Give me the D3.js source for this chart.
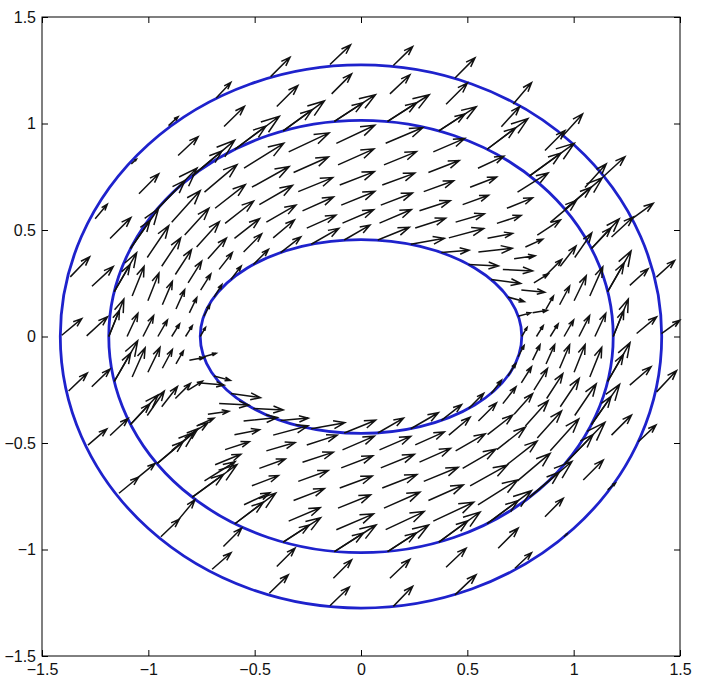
<!DOCTYPE html>
<html>
<head>
<meta charset="utf-8">
<script src="https://cdnjs.cloudflare.com/ajax/libs/d3/7.8.5/d3.min.js"></script>
<style>
  body { margin: 0; background: #fff; }
  text { font-family: "Liberation Sans", Arial, Helvetica, sans-serif; }
</style>
</head>
<body>
<script>
// tick values used on both axes
var tickValues = [-1.5, -1, -0.5, 0, 0.5, 1, 1.5];

// semi-axes of the boundary ellipses: inner, middle, outer
var ellipseA = [0.756, 1.186, 1.414];
var ellipseB = [0.455, 1.015, 1.275];

// arrows with their tail on the outer ellipse
var outerRing = [
  [1.413, 0.014, 0.086, 0.062], [1.389, 0.279, 0.086, 0.078], [1.264, 0.545, 0.110, 0.080],
  [1.139, 0.750, 0.102, 0.094], [0.943, 0.936, 0.099, 0.109], [0.716, 1.092, 0.086, 0.100],
  [0.442, 1.214, 0.094, 0.094], [0.152, 1.272, 0.091, 0.089], [-0.146, 1.277, 0.097, 0.092],
  [-0.425, 1.220, 0.091, 0.091], [-0.681, 1.120, 0.069, 0.073], [-0.905, 0.990, 0.045, 0.042],
  [-1.080, 0.810, 0.024, 0.022], [-1.250, 0.553, 0.057, 0.068], [-1.367, 0.280, 0.091, 0.094],
  [-1.407, 0.006, 0.094, 0.078], [-1.375, -0.256, 0.088, 0.084], [-1.284, -0.510, 0.089, 0.076],
  [-1.138, -0.736, 0.092, 0.075], [-0.941, -0.940, 0.086, 0.082], [-0.700, -1.093, 0.089, 0.078],
  [-0.431, -1.205, 0.089, 0.086], [-0.146, -1.264, 0.091, 0.088], [0.152, -1.267, 0.091, 0.094],
  [0.442, -1.213, 0.099, 0.094], [0.724, -1.088, 0.078, 0.073], [0.955, -0.940, 0.014, 0.014],
  [1.160, -0.720, 0.036, 0.031], [1.304, -0.494, 0.083, 0.078], [1.390, -0.260, 0.094, 0.100]
];

// arrows half way between middle and outer ellipse
var midRing = [
  [1.296, 0.014, 0.094, 0.078], [1.264, 0.240, 0.086, 0.078], [1.178, 0.467, 0.102, 0.094],
  [1.053, 0.700, 0.100, 0.110], [0.865, 0.873, 0.094, 0.094], [0.660, 0.985, 0.086, 0.094],
  [0.400, 1.090, 0.100, 0.100], [0.136, 1.139, 0.094, 0.089], [-0.138, 1.139, 0.094, 0.094],
  [-0.396, 1.080, 0.099, 0.098], [-0.644, 0.986, 0.096, 0.094], [-0.860, 0.850, 0.094, 0.088],
  [-1.044, 0.670, 0.093, 0.094], [-1.180, 0.460, 0.098, 0.098], [-1.265, 0.236, 0.100, 0.092],
  [-1.290, 0.003, 0.098, 0.090], [-1.266, -0.236, 0.086, 0.083], [-1.180, -0.465, 0.085, 0.080],
  [-1.054, -0.666, 0.086, 0.070], [-0.859, -0.861, 0.078, 0.094], [-0.647, -0.986, 0.086, 0.086],
  [-0.396, -1.080, 0.086, 0.086], [-0.130, -1.135, 0.086, 0.086], [0.136, -1.135, 0.094, 0.089],
  [0.400, -1.083, 0.094, 0.089], [0.645, -0.994, 0.094, 0.094], [0.865, -0.846, 0.086, 0.086],
  [1.045, -0.674, 0.094, 0.094], [1.178, -0.463, 0.094, 0.094], [1.264, -0.228, 0.100, 0.086]
];

// arrows on the middle ellipse (long ones)
var middleRingLong = [
  [1.186, 0, 0.071, 0.176], [1.160, 0.211, 0.110, 0.191], [1.084, 0.413, 0.130, 0.139],
  [0.959, 0.597, 0.176, 0.148], [0.793, 0.754, 0.210, 0.153], [0.593, 0.879, 0.192, 0.144],
  [0.366, 0.965, 0.176, 0.114], [0.125, 1.010, 0.196, 0.125], [-0.125, 1.010, 0.193, 0.125],
  [-0.366, 0.965, 0.194, 0.141], [-0.593, 0.879, 0.209, 0.155], [-0.793, 0.754, 0.199, 0.167],
  [-0.959, 0.597, 0.188, 0.194], [-1.084, 0.413, 0.132, 0.188], [-1.160, 0.211, 0.105, 0.182],
  [-1.186, 0, 0.071, 0.176], [-1.160, -0.211, 0.110, 0.191], [-1.084, -0.413, 0.130, 0.139],
  [-0.959, -0.597, 0.176, 0.148], [-0.793, -0.754, 0.210, 0.153], [-0.593, -0.879, 0.192, 0.144],
  [-0.366, -0.965, 0.176, 0.114], [-0.125, -1.010, 0.196, 0.125], [0.125, -1.010, 0.193, 0.125],
  [0.366, -0.965, 0.194, 0.141], [0.593, -0.879, 0.209, 0.155], [0.793, -0.754, 0.199, 0.167],
  [0.959, -0.597, 0.188, 0.194], [1.084, -0.413, 0.132, 0.188], [1.160, -0.211, 0.105, 0.182]
];

// second (shorter) arrow on the same middle-ellipse nodes, gives the double heads
var middleRingShort = [
  [1.186, 0, 0.050, 0.123], [1.160, 0.211, 0.077, 0.134], [1.084, 0.413, 0.091, 0.097],
  [0.959, 0.597, 0.123, 0.104], [0.793, 0.754, 0.147, 0.107], [0.593, 0.879, 0.134, 0.101],
  [0.366, 0.965, 0.123, 0.080], [0.125, 1.010, 0.137, 0.088], [-0.125, 1.010, 0.135, 0.088],
  [-0.366, 0.965, 0.136, 0.099], [-0.593, 0.879, 0.146, 0.109], [-0.793, 0.754, 0.139, 0.117],
  [-0.959, 0.597, 0.132, 0.136], [-1.084, 0.413, 0.092, 0.132], [-1.160, 0.211, 0.074, 0.127],
  [-1.186, 0, 0.050, 0.123], [-1.160, -0.211, 0.077, 0.134], [-1.084, -0.413, 0.091, 0.097],
  [-0.959, -0.597, 0.123, 0.104], [-0.793, -0.754, 0.147, 0.107], [-0.593, -0.879, 0.134, 0.101],
  [-0.366, -0.965, 0.123, 0.080], [-0.125, -1.010, 0.137, 0.088], [0.125, -1.010, 0.135, 0.088],
  [0.366, -0.965, 0.136, 0.099], [0.593, -0.879, 0.146, 0.109], [0.793, -0.754, 0.139, 0.117],
  [0.959, -0.597, 0.132, 0.136], [1.084, -0.413, 0.092, 0.132], [1.160, -0.211, 0.074, 0.127]
];

// rows between the middle and inner ellipse, outermost first
var row5 = [
  [1.100, 0, 0.051, 0.109], [1.076, 0.190, 0.061, 0.137], [1.005, 0.371, 0.080, 0.115],
  [0.890, 0.536, 0.123, 0.103], [0.736, 0.678, 0.144, 0.090], [0.550, 0.790, 0.122, 0.057],
  [0.340, 0.867, 0.148, 0.063], [0.116, 0.907, 0.175, 0.074], [-0.116, 0.907, 0.181, 0.085],
  [-0.340, 0.867, 0.190, 0.089], [-0.550, 0.790, 0.187, 0.117], [-0.736, 0.678, 0.153, 0.129],
  [-0.890, 0.536, 0.134, 0.149], [-1.005, 0.371, 0.101, 0.149], [-1.076, 0.190, 0.056, 0.139],
  [-1.100, 0, 0.051, 0.109], [-1.076, -0.190, 0.061, 0.137], [-1.005, -0.371, 0.080, 0.115],
  [-0.890, -0.536, 0.123, 0.103], [-0.736, -0.678, 0.144, 0.090], [-0.550, -0.790, 0.122, 0.057],
  [-0.340, -0.867, 0.148, 0.063], [-0.116, -0.907, 0.175, 0.074], [0.116, -0.907, 0.181, 0.085],
  [0.340, -0.867, 0.190, 0.089], [0.550, -0.790, 0.187, 0.117], [0.736, -0.678, 0.153, 0.129],
  [0.890, -0.536, 0.134, 0.149], [1.005, -0.371, 0.101, 0.149], [1.076, -0.190, 0.056, 0.139]
];

var row4 = [
  [1.025, 0, 0.050, 0.098], [1.002, 0.168, 0.057, 0.117], [0.937, 0.330, 0.074, 0.095],
  [0.829, 0.476, 0.109, 0.071], [0.686, 0.602, 0.121, 0.049], [0.513, 0.701, 0.125, 0.048],
  [0.317, 0.770, 0.145, 0.056], [0.108, 0.806, 0.153, 0.062], [-0.108, 0.806, 0.169, 0.075],
  [-0.317, 0.770, 0.164, 0.073], [-0.513, 0.701, 0.175, 0.097], [-0.686, 0.602, 0.142, 0.111],
  [-0.829, 0.476, 0.114, 0.126], [-0.937, 0.330, 0.089, 0.133], [-1.002, 0.168, 0.052, 0.130],
  [-1.025, 0, 0.050, 0.098], [-1.002, -0.168, 0.057, 0.117], [-0.937, -0.330, 0.074, 0.095],
  [-0.829, -0.476, 0.109, 0.071], [-0.686, -0.602, 0.121, 0.049], [-0.513, -0.701, 0.125, 0.048],
  [-0.317, -0.770, 0.145, 0.056], [-0.108, -0.806, 0.153, 0.062], [0.108, -0.806, 0.169, 0.075],
  [0.317, -0.770, 0.164, 0.073], [0.513, -0.701, 0.175, 0.097], [0.686, -0.602, 0.142, 0.111],
  [0.829, -0.476, 0.114, 0.126], [0.937, -0.330, 0.089, 0.133], [1.002, -0.168, 0.052, 0.130]
];

var row3 = [
  [0.955, 0, 0.045, 0.078], [0.934, 0.149, 0.047, 0.088], [0.873, 0.291, 0.071, 0.071],
  [0.773, 0.420, 0.082, 0.037], [0.639, 0.531, 0.114, 0.037], [0.478, 0.619, 0.122, 0.044],
  [0.295, 0.680, 0.141, 0.051], [0.100, 0.711, 0.153, 0.056], [-0.100, 0.711, 0.163, 0.063],
  [-0.295, 0.680, 0.162, 0.066], [-0.478, 0.619, 0.156, 0.090], [-0.639, 0.531, 0.134, 0.105],
  [-0.773, 0.420, 0.107, 0.119], [-0.873, 0.291, 0.076, 0.117], [-0.934, 0.149, 0.047, 0.110],
  [-0.955, 0, 0.045, 0.078], [-0.934, -0.149, 0.047, 0.088], [-0.873, -0.291, 0.071, 0.071],
  [-0.773, -0.420, 0.082, 0.037], [-0.639, -0.531, 0.114, 0.037], [-0.478, -0.619, 0.122, 0.044],
  [-0.295, -0.680, 0.141, 0.051], [-0.100, -0.711, 0.153, 0.056], [0.100, -0.711, 0.163, 0.063],
  [0.295, -0.680, 0.162, 0.066], [0.478, -0.619, 0.156, 0.090], [0.639, -0.531, 0.134, 0.105],
  [0.773, -0.420, 0.107, 0.119], [0.873, -0.291, 0.076, 0.117], [0.934, -0.149, 0.047, 0.110]
];

var row2 = [
  [0.890, 0, 0.037, 0.059], [0.870, 0.129, 0.035, 0.061], [0.813, 0.252, 0.068, 0.042],
  [0.720, 0.365, 0.099, 0.014], [0.595, 0.461, 0.118, 0.023], [0.445, 0.537, 0.135, 0.039],
  [0.275, 0.590, 0.145, 0.047], [0.093, 0.617, 0.149, 0.057], [-0.093, 0.617, 0.158, 0.064],
  [-0.275, 0.590, 0.146, 0.065], [-0.445, 0.537, 0.139, 0.080], [-0.595, 0.461, 0.118, 0.092],
  [-0.720, 0.365, 0.087, 0.097], [-0.813, 0.252, 0.064, 0.102], [-0.870, 0.129, 0.041, 0.091],
  [-0.890, 0, 0.037, 0.059], [-0.870, -0.129, 0.035, 0.061], [-0.813, -0.252, 0.068, 0.042],
  [-0.720, -0.365, 0.099, 0.014], [-0.595, -0.461, 0.118, 0.023], [-0.445, -0.537, 0.135, 0.039],
  [-0.275, -0.590, 0.145, 0.047], [-0.093, -0.617, 0.149, 0.057], [0.093, -0.617, 0.158, 0.064],
  [0.275, -0.590, 0.146, 0.065], [0.445, -0.537, 0.139, 0.080], [0.595, -0.461, 0.118, 0.092],
  [0.720, -0.365, 0.087, 0.097], [0.813, -0.252, 0.064, 0.102], [0.870, -0.129, 0.041, 0.091]
];

var row1 = [
  [0.825, 0, 0.032, 0.051], [0.807, 0.111, 0.069, 0.012], [0.754, 0.218, 0.110, -0.010],
  [0.667, 0.315, 0.140, -0.007], [0.552, 0.397, 0.159, 0.017], [0.413, 0.463, 0.164, 0.044],
  [0.255, 0.509, 0.143, 0.046], [0.087, 0.532, 0.150, 0.064], [-0.087, 0.532, 0.147, 0.063],
  [-0.255, 0.509, 0.137, 0.061], [-0.413, 0.463, 0.100, 0.084], [-0.552, 0.397, 0.085, 0.085],
  [-0.667, 0.315, 0.062, 0.079], [-0.754, 0.218, 0.048, 0.076], [-0.807, 0.111, 0.035, 0.072],
  [-0.825, 0, 0.032, 0.051], [-0.807, -0.111, 0.069, 0.012], [-0.754, -0.218, 0.110, -0.010],
  [-0.667, -0.315, 0.140, -0.007], [-0.552, -0.397, 0.159, 0.017], [-0.413, -0.463, 0.164, 0.044],
  [-0.255, -0.509, 0.143, 0.046], [-0.087, -0.532, 0.150, 0.064], [0.087, -0.532, 0.147, 0.063],
  [0.255, -0.509, 0.137, 0.061], [0.413, -0.463, 0.100, 0.084], [0.552, -0.397, 0.085, 0.085],
  [0.667, -0.315, 0.062, 0.079], [0.754, -0.218, 0.048, 0.076], [0.807, -0.111, 0.035, 0.072]
];

// arrows with their tail on the inner ellipse
var innerRing = [
  [0.756, 0, 0.025, 0.043], [0.739, 0.095, 0.058, 0.016], [0.691, 0.185, 0.077, -0.021],
  [0.612, 0.268, 0.139, -0.019], [0.506, 0.338, 0.140, -0.007], [0.378, 0.394, 0.130, 0.011],
  [0.234, 0.433, 0.158, 0.028], [0.079, 0.453, 0.148, 0.060], [-0.079, 0.453, 0.121, 0.070],
  [-0.234, 0.433, 0.130, 0.075], [-0.378, 0.394, 0.095, 0.074], [-0.506, 0.338, 0.071, 0.071],
  [-0.612, 0.268, 0.049, 0.063], [-0.691, 0.185, 0.037, 0.059], [-0.739, 0.095, 0.028, 0.053],
  [-0.756, 0, 0.025, 0.043], [-0.739, -0.095, 0.058, 0.016], [-0.691, -0.185, 0.077, -0.021],
  [-0.612, -0.268, 0.139, -0.019], [-0.506, -0.338, 0.140, -0.007], [-0.378, -0.394, 0.130, 0.011],
  [-0.234, -0.433, 0.158, 0.028], [-0.079, -0.453, 0.148, 0.060], [0.079, -0.453, 0.121, 0.070],
  [0.234, -0.433, 0.130, 0.075], [0.378, -0.394, 0.095, 0.074], [0.506, -0.338, 0.071, 0.071],
  [0.612, -0.268, 0.049, 0.063], [0.691, -0.185, 0.037, 0.059], [0.739, -0.095, 0.028, 0.053]
];

var arrows = [].concat(outerRing, midRing, middleRingLong, middleRingShort,
                       row5, row4, row3, row2, row1, innerRing);

// set the dimensions and margins of the graph
var margin = {top: 17, right: 21, bottom: 23, left: 42},
    width = 701 - margin.left - margin.right,
    height = 679 - margin.top - margin.bottom;

var x = d3.scaleLinear().domain([-1.5, 1.5]).range([0, width]);
var y = d3.scaleLinear().domain([-1.5, 1.5]).range([height, 0]);

var svg = d3.select("body")
    .append("svg")
        .attr("width", width + margin.left + margin.right)
        .attr("height", height + margin.top + margin.bottom)
    .append("g")
        .attr("transform", "translate(" + margin.left + "," + margin.top + ")");

var fmt = function(d) { return (d < 0 ? "\u2212" : "") + Math.abs(d); };

// axes, ticks pointing inward on all four sides
var gx = svg.append("g")
    .attr("transform", "translate(0," + height + ")")
    .call(d3.axisBottom(x).tickValues(tickValues).tickSize(-6).tickSizeOuter(0).tickPadding(8).tickFormat(fmt));
var gy = svg.append("g")
    .call(d3.axisLeft(y).tickValues(tickValues).tickSize(-6).tickSizeOuter(0).tickPadding(6).tickFormat(fmt));
var gt = svg.append("g")
    .call(d3.axisTop(x).tickValues(tickValues).tickSize(-6).tickSizeOuter(0).tickFormat(""));
var gr = svg.append("g")
    .attr("transform", "translate(" + width + ",0)")
    .call(d3.axisRight(y).tickValues(tickValues).tickSize(-6).tickSizeOuter(0).tickFormat(""));

[gx, gy, gt, gr].forEach(function(g) {
  g.select(".domain").remove();
  g.selectAll("line").attr("stroke", "#000");
  g.selectAll("text").attr("fill", "#111").style("font-size", "16px");
});

svg.append("rect")
    .attr("width", width)
    .attr("height", height)
    .attr("fill", "none")
    .attr("stroke", "#000")
    .attr("stroke-width", 1);

// the three ellipses
svg.selectAll(".ring")
    .data(d3.range(ellipseA.length))
  .enter().append("ellipse")
    .attr("class", "ring")
    .attr("cx", x(0))
    .attr("cy", y(0))
    .attr("rx", function(i) { return x(ellipseA[i]) - x(0); })
    .attr("ry", function(i) { return y(0) - y(ellipseB[i]); })
    .attr("fill", "none")
    .attr("stroke", "#1e22cc")
    .attr("stroke-width", 2.8);

// quiver arrows, matlab style open heads
var alpha = 0.33, beta = 0.35;
function arrowPath(d) {
  var x0 = x(d[0]), y0 = y(d[1]),
      x1 = x(d[0] + d[2]), y1 = y(d[1] + d[3]);
  var dx = x1 - x0, dy = y1 - y0;
  var hx1 = x1 - alpha * (dx + beta * dy), hy1 = y1 - alpha * (dy - beta * dx),
      hx2 = x1 - alpha * (dx - beta * dy), hy2 = y1 - alpha * (dy + beta * dx);
  return "M" + x0 + "," + y0 + "L" + x1 + "," + y1 +
         "M" + hx1 + "," + hy1 + "L" + x1 + "," + y1 + "L" + hx2 + "," + hy2;
}

svg.selectAll(".arrow")
    .data(arrows)
  .enter().append("path")
    .attr("class", "arrow")
    .attr("d", arrowPath)
    .attr("fill", "none")
    .attr("stroke", "#111")
    .attr("stroke-width", 1.5)
    .attr("stroke-linejoin", "miter");
</script>
</body>
</html>
